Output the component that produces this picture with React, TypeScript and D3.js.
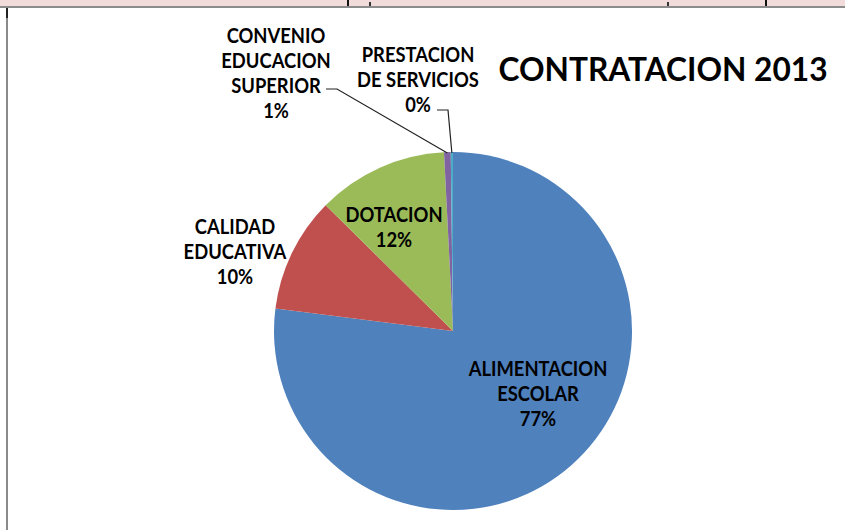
import React from "react";
import * as d3 from "d3";

const categories = [
  "ALIMENTACION ESCOLAR",
  "CALIDAD EDUCATIVA",
  "DOTACION",
  "CONVENIO EDUCACION SUPERIOR",
  "PRESTACION DE SERVICIOS",
];
const values = [77.0, 10.4, 11.8, 0.6, 0.2];
const labelLines = [
  ["ALIMENTACION", "ESCOLAR"],
  ["CALIDAD", "EDUCATIVA"],
  ["DOTACION"],
  ["CONVENIO", "EDUCACION", "SUPERIOR"],
  ["PRESTACION", "DE SERVICIOS"],
];
const colors = ["#4f81bd", "#c0504d", "#9bbb59", "#8064a2", "#4bacc6"];
const title = "CONTRATACION 2013";

// layout (label anchor: center x, first baseline y)
const W = 845;
const H = 530;
const cx = 453;
const cy = 331;
const R = 179;
const labelAnchors: [number, number][] = [
  [538, 376],
  [235, 234],
  [394, 222],
  [276, 43],
  [418, 62],
];
const lineGap = 25;
const FONT = "Lato, 'Open Sans', sans-serif";
const SQUEEZE = 0.92;

export default function App() {
  const pie = d3
    .pie<number>()
    .sort(null)
    .value((d) => d)
    .startAngle(0)
    .endAngle(2 * Math.PI);
  const arcs = pie(values);
  const arc = d3.arc<d3.PieArcDatum<number>>().innerRadius(0).outerRadius(R);
  const total = d3.sum(values);
  const pct = (v: number) => `${Math.round((v / total) * 100)}%`;

  const rim = (a: d3.PieArcDatum<number>) => {
    const m = (a.startAngle + a.endAngle) / 2;
    return [cx + Math.sin(m) * R, cy - Math.cos(m) * R];
  };
  const convRim = rim(arcs[3]);
  const prestRim = rim(arcs[4]);

  return (
    <svg
      width={W}
      height={H}
      style={{ position: "absolute", left: 0, top: 0, background: "#fff" }}
    >
      {/* spreadsheet strip */}
      <rect x={0} y={0} width={W} height={6} fill="#f2dcdb" />
      <rect x={0} y={6} width={W} height={2} fill="#8c8c8c" />
      <rect x={347} y={0} width={2} height={6} fill="#111" />
      <rect x={765} y={0} width={2} height={6} fill="#111" />
      <rect x={369} y={2} width={2} height={4} fill="#333" />
      <rect x={667} y={2} width={2} height={4} fill="#333" />
      <rect x={6} y={8} width={2} height={H - 8} fill="#8a8a8a" />
      <rect x={6} y={8} width={2} height={10} fill="#222" />

      <g transform={`translate(${cx},${cy})`}>
        {arcs.map((a, i) => (
          <path key={i} d={arc(a) || ""} fill={colors[i]} />
        ))}
      </g>

      {/* leader lines */}
      <polyline
        points={`326,89 337,89 ${convRim[0]},${convRim[1] + 1}`}
        fill="none"
        stroke="#222"
        strokeWidth={1.2}
      />
      <polyline
        points={`437,110 448,110 ${prestRim[0]},${prestRim[1] + 1}`}
        fill="none"
        stroke="#222"
        strokeWidth={1.2}
      />

      {arcs.map((a, i) => {
        const [x, y] = labelAnchors[i];
        const lines = [...labelLines[i], pct(values[i])];
        return (
          <g
            key={i}
            transform={`translate(${x},0) scale(${SQUEEZE},1) translate(${-x},0)`}
          >
            <text
              x={x}
              y={y}
              textAnchor="middle"
              fontFamily={FONT}
              fontWeight="bold"
              fontSize={20}
              fill="#000"
            >
              {lines.map((t, j) => (
                <tspan key={j} x={x} y={y + j * lineGap}>
                  {t}
                </tspan>
              ))}
            </text>
          </g>
        );
      })}

      <g transform={`translate(663,0) scale(0.96,1) translate(-663,0)`}>
        <text
          x={663}
          y={81}
          textAnchor="middle"
          fontFamily={FONT}
          fontWeight="bold"
          fontSize={33}
          fill="#000"
        >
          {title}
        </text>
      </g>
    </svg>
  );
}
